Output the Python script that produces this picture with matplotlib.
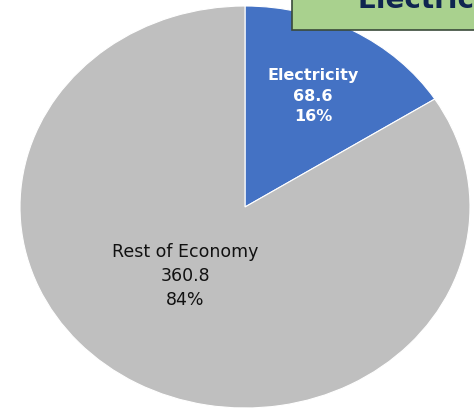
import matplotlib
matplotlib.use("Agg")
import matplotlib.pyplot as plt
from matplotlib.patches import Rectangle

categories = ["Electricity", "Rest of Economy"]
values = [68.6, 360.8]
percents = ["16%", "84%"]
colors = ["#4472C4", "#BFBFBF"]
title_text = "Electricity"

W, H = 474, 419
fig = plt.figure(figsize=(W / 100, H / 100), dpi=100)
ax = fig.add_axes([0, 0, 1, 1])

# pie is stretched horizontally in the reference (ellipse)
cx, cy, rx, ry = 245, 207, 225, 201

ax.pie(values, colors=colors, startangle=90, counterclock=False,
       radius=1, frame=True,
       wedgeprops=dict(linewidth=0.8, edgecolor="white"))
ax.set_aspect("auto")
ax.set_xlim(-cx / rx, (W - cx) / rx)
ax.set_ylim((cy - H) / ry, cy / ry)
ax.axis("off")


def px(x, y):
    return (x - cx) / rx, (cy - y) / ry


labels = [f"{c}\n{v}\n{p}" for c, v, p in zip(categories, values, percents)]
ax.text(*px(313, 96), labels[0], ha="center", va="center", color="white",
        fontsize=11.5, fontweight="bold", linespacing=1.45, family="DejaVu Sans")
ax.text(*px(185, 276), labels[1], ha="center", va="center", color="#111111",
        fontsize=12.5, linespacing=1.42, family="DejaVu Sans")

# green title box (cut off at top-right)
fig.patches.append(Rectangle((292 / W, 1 - 30 / H), 300 / W, 60 / H,
                             transform=fig.transFigure, facecolor="#A9D18E",
                             edgecolor="#3A4A3A", linewidth=1.2))
fig.text(358 / W, 1 - 8 / H, title_text, ha="left", va="baseline",
         color="#0F2550", fontsize=20, fontweight="bold")

fig.savefig("out.png", dpi=100, facecolor="white")
